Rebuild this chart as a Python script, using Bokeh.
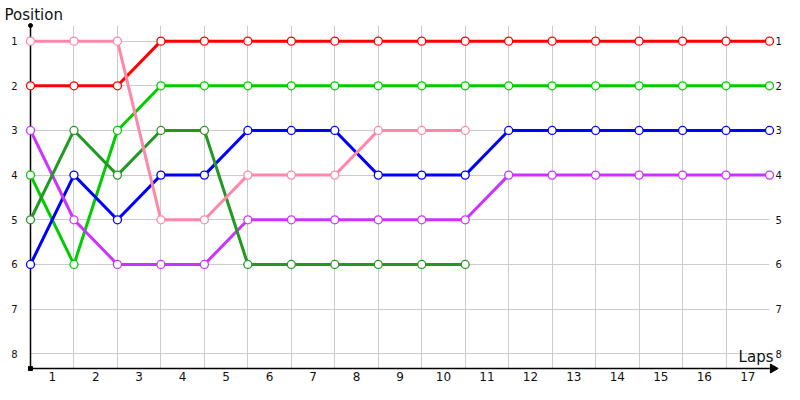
import math
from bokeh.plotting import figure
from bokeh.models import Range1d, FixedTicker, LinearAxis, Title
from bokeh.core.properties import value
from bokeh.embed import file_html
from bokeh.resources import INLINE

# ---------------- data ----------------
laps_labels = [str(i) for i in range(1, 18)]
positions = [1, 2, 3, 4, 5, 6, 7, 8]

red = [2, 2, 2, 1, 1, 1, 1, 1, 1, 1, 1, 1, 1, 1, 1, 1, 1, 1]
green = [4, 6, 3, 2, 2, 2, 2, 2, 2, 2, 2, 2, 2, 2, 2, 2, 2, 2]
blue = [6, 4, 5, 4, 4, 3, 3, 3, 4, 4, 4, 3, 3, 3, 3, 3, 3, 3]
purple = [3, 5, 6, 6, 6, 5, 5, 5, 5, 5, 5, 4, 4, 4, 4, 4, 4, 4]
darkgreen = [5, 3, 4, 3, 3, 6, 6, 6, 6, 6, 6]
pink = [1, 1, 1, 5, 5, 4, 4, 4, 3, 3, 3]

series = [
    (red, "#ff0000"),
    (green, "#00cc00"),
    (blue, "#0000ff"),
    (purple, "#cc33ff"),
    (darkgreen, "#229922"),
    (pink, "#ff88aa"),
]

N_POINTS = len(red)
X_MAX = N_POINTS - 1
Y_TOP = 0.65
Y_BOTTOM = 8.33
FONT = "DejaVu Sans"

p = figure(width=784, height=384, output_backend="svg", toolbar_location=None,
           x_range=Range1d(0, X_MAX), y_range=Range1d(Y_BOTTOM, Y_TOP),
           x_axis_location=None, y_axis_location=None,
           min_border_left=30, min_border_right=14, min_border_top=25,
           min_border_bottom=16)
p.outline_line_color = None
p.background_fill_color = "white"

# title used as the y-axis caption "Position"
p.title = Title(text="Position", align="left", text_font=FONT,
                text_font_size="15px", text_font_style="normal",
                text_color="#111111", offset=-26, standoff=3)

# grids
p.xgrid.ticker = FixedTicker(ticks=list(range(N_POINTS)))
p.ygrid.ticker = FixedTicker(ticks=positions)
p.xgrid.grid_line_color = "#cccccc"
p.ygrid.grid_line_color = "#cccccc"
p.xgrid.grid_line_width = 1
p.ygrid.grid_line_width = 1

# left axis
left = LinearAxis(ticker=FixedTicker(ticks=positions))
left.axis_line_color = "black"
left.axis_line_width = 1.5
left.major_tick_line_color = None
left.minor_tick_line_color = None
left.major_tick_out = 0
left.major_tick_in = 0
left.major_label_standoff = 13
left.major_label_text_font = FONT
left.major_label_text_font_size = "10px"
left.major_label_text_color = "#111111"
p.add_layout(left, "left")

# right axis (labels only)
right = LinearAxis(ticker=FixedTicker(ticks=positions))
right.axis_line_color = None
right.major_tick_line_color = None
right.minor_tick_line_color = None
right.major_tick_out = 0
right.major_tick_in = 0
right.major_label_standoff = 6
right.major_label_text_font = FONT
right.major_label_text_font_size = "10px"
right.major_label_text_color = "#111111"
p.add_layout(right, "right")

# bottom axis: labels centred between laps
bottom_ticks = [i + 0.5 for i in range(len(laps_labels))]
bottom = LinearAxis(ticker=FixedTicker(ticks=bottom_ticks),
                    major_label_overrides={t: l for t, l in zip(bottom_ticks, laps_labels)})
bottom.axis_line_color = "black"
bottom.axis_line_width = 1.5
bottom.major_tick_line_color = None
bottom.minor_tick_line_color = None
bottom.major_tick_out = 0
bottom.major_tick_in = 0
bottom.major_label_standoff = 3
bottom.major_label_text_font = FONT
bottom.major_label_text_font_size = "12px"
bottom.major_label_text_color = "#111111"
p.add_layout(bottom, "below")

# extension of the x axis with an arrow head
ext = p.line([X_MAX, X_MAX + 0.12], [Y_BOTTOM, Y_BOTTOM], line_color="black",
             line_width=1.5)
ext.level = "annotation"
head = p.scatter([X_MAX + 0.08], [Y_BOTTOM], marker="triangle", size=9,
                 angle=-math.pi / 2, color="black")
head.level = "annotation"

# axis caption "Laps"
lp = p.text([X_MAX], [Y_BOTTOM], text=["Laps"], text_align="right",
            text_baseline="bottom", x_offset=4, y_offset=-3,
            text_font=value(FONT), text_font_size="15px", text_color="#111111")
lp.level = "annotation"

# series
for vals, col in series:
    xs = list(range(len(vals)))
    ln = p.line(xs, vals, line_color=col, line_width=3)
    ln.level = "annotation"
    sc = p.scatter(xs, vals, size=8, marker="circle", fill_color="white",
                   line_color=col, line_width=1.3)
    sc.level = "annotation"

# axis end dots
d1 = p.scatter([0], [Y_TOP], size=4, marker="circle", color="black")
d1.level = "annotation"
d2 = p.scatter([0], [Y_BOTTOM], size=4, marker="square", color="black")
d2.level = "annotation"

open("out.html", "w").write(file_html(p, INLINE))
